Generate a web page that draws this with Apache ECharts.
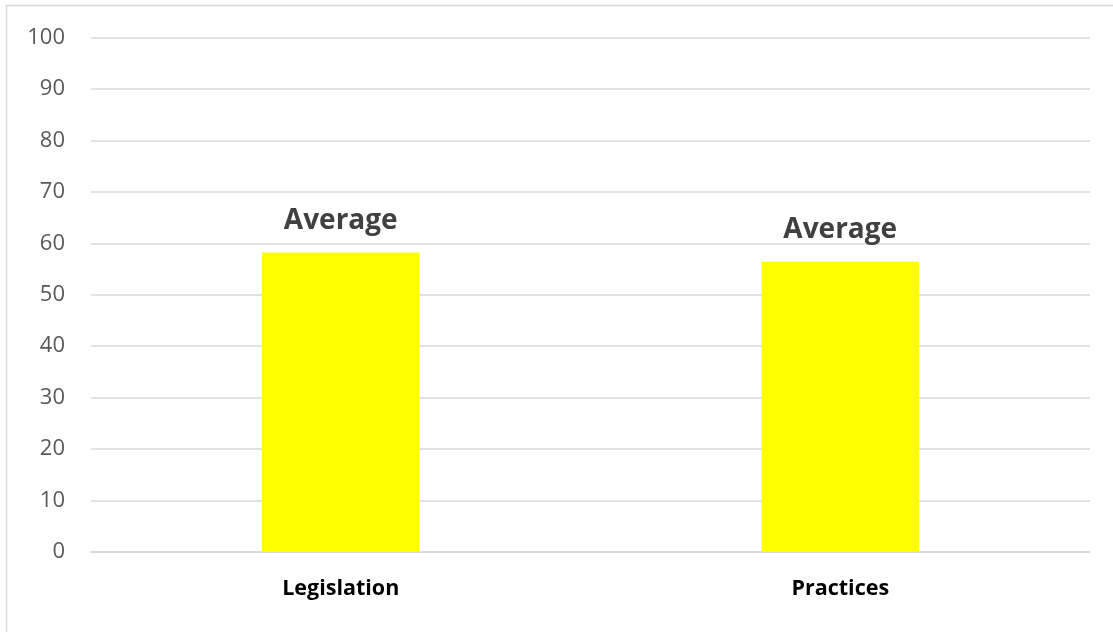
<!DOCTYPE html>
<html>
<head>
<meta charset="utf-8">
<script src="https://cdn.jsdelivr.net/npm/echarts@6/dist/echarts.min.js"></script>
<style>
  html, body { margin: 0; padding: 0; background: #fff; }
  #chart { width: 1113px; height: 632px; }
</style>
</head>
<body>
<div id="chart"></div>
<script>
// Average scores per area
const categories = ['Legislation', 'Practices'];
const averages = [58.2, 56.4];
const barLabels = ['Average', 'Average'];
const yTicks = { min: 0, max: 100, interval: 10 };

const chart = echarts.init(document.getElementById('chart'), null, { renderer: 'canvas' });

chart.setOption({
  backgroundColor: '#ffffff',
  animation: false,
  textStyle: { fontFamily: 'Open Sans' },
  graphic: [{
    type: 'rect',
    shape: { x: 6.5, y: 5.5, width: 1200, height: 700 },
    style: { fill: 'none', stroke: '#d9d9d9', lineWidth: 1.5 },
    silent: true
  }],
  grid: { left: 91, right: 23, top: 37.5, bottom: 80, containLabel: false },
  xAxis: {
    type: 'category',
    data: categories,
    axisLine: { show: true, lineStyle: { color: '#d9d9d9', width: 1.5 } },
    axisTick: { show: false },
    axisLabel: {
      margin: 26,
      fontFamily: 'Open Sans',
      fontSize: 21.5,
      fontWeight: 'bold',
      color: '#000000'
    }
  },
  yAxis: {
    type: 'value',
    min: yTicks.min,
    max: yTicks.max,
    interval: yTicks.interval,
    axisLine: { show: false },
    axisTick: { show: false },
    splitLine: { lineStyle: { color: '#d9d9d9', width: 1.5 } },
    axisLabel: {
      margin: 26,
      fontFamily: 'Open Sans',
      fontSize: 22,
      color: '#595959'
    }
  },
  series: [{
    type: 'bar',
    data: averages,
    barWidth: '31.5%',
    itemStyle: { color: '#ffff00' },
    label: {
      show: true,
      position: 'top',
      distance: 18,
      formatter: (p) => barLabels[p.dataIndex],
      fontFamily: 'Open Sans',
      fontSize: 28,
      fontWeight: 'bold',
      color: '#404040'
    }
  }]
});
</script>
</body>
</html>
